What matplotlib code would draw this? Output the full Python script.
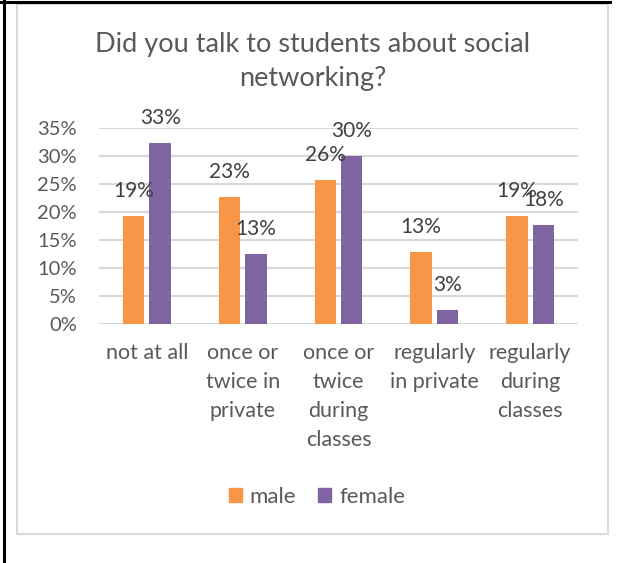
import matplotlib.pyplot as plt
from matplotlib.patches import Rectangle
from matplotlib.lines import Line2D

# Categories and values (%)
categories = ['not at all', 'once or\ntwice in\nprivate', 'once or\ntwice\nduring\nclasses',
              'regularly\nin private', 'regularly\nduring\nclasses']
male = [19.3, 22.6, 25.8, 12.9, 19.3]
female = [32.4, 12.5, 30.0, 2.5, 17.6]
male_labels = ['19%', '23%', '26%', '13%', '19%']
female_labels = ['33%', '13%', '30%', '3%', '18%']
yticks = [0, 5, 10, 15, 20, 25, 30, 35]

orange = '#F79646'
purple = '#8064A2'
grey_text = '#595959'
grid_col = '#D9D9D9'

plt.rcParams['font.family'] = ['Lato', 'DejaVu Sans']

fig = plt.figure(figsize=(6.2, 5.63), dpi=100)
ax = fig.add_axes([99 / 620, 1 - 324 / 563, (578 - 99) / 620, (324 - 128) / 563])

x = list(range(len(categories)))
w = 0.225
off = 0.138
b1 = ax.bar([i - off for i in x], male, width=w, color=orange, zorder=3)
b2 = ax.bar([i + off for i in x], female, width=w, color=purple, zorder=3)

# Data labels
for bars, labs in ((b1, male_labels), (b2, female_labels)):
    for bar, lab in zip(bars, labs):
        ax.annotate(lab, (bar.get_x() + bar.get_width() / 2, bar.get_height()),
                    xytext=(0, 18), textcoords='offset points', ha='center', va='center',
                    fontsize=15, color='#404040')

ax.set_xlim(-0.5, 4.5)
ax.set_ylim(0, 35)
ax.set_yticks(yticks)
ax.set_yticklabels([f'{v}%' for v in yticks])
ax.set_xticks(x)
ax.set_xticklabels(categories, linespacing=1.55)
ax.tick_params(axis='y', length=0, pad=16, labelsize=14.5, labelcolor=grey_text)
ax.tick_params(axis='x', length=0, pad=14, labelsize=15.5, labelcolor=grey_text)
for lab in ax.get_xticklabels():
    lab.set_va('top')
ax.grid(axis='y', color=grid_col, lw=1.5, zorder=0)
for s in ax.spines.values():
    s.set_visible(False)

# Title
fig.text(313 / 620, 1 - 61 / 563, 'Did you talk to students about social\nnetworking?',
         ha='center', va='center', fontsize=19.5, color=grey_text, linespacing=1.45)

# Legend
handles = [Rectangle((0, 0), 1, 1, color=orange), Rectangle((0, 0), 1, 1, color=purple)]
fig.legend(handles, ['male', 'female'], loc='center', bbox_to_anchor=(317 / 620, 1 - 497 / 563),
           ncol=2, frameon=False, fontsize=16, handlelength=0.58, handleheight=0.58,
           handletextpad=0.35, columnspacing=1.0, labelcolor=grey_text)

# Chart frame and page border lines
fig.patches.append(Rectangle((17 / 620, 1 - 534 / 563), (608 - 17) / 620, (534 - 4) / 563,
                             transform=fig.transFigure, fill=False, edgecolor=grid_col, lw=1.5))
fig.lines.append(Line2D([4 / 620, 4 / 620], [0, 1], transform=fig.transFigure, color='black', lw=2.2))
fig.lines.append(Line2D([0, 610 / 620], [1 - 2 / 563, 1 - 2 / 563], transform=fig.transFigure,
                        color='black', lw=2.2))

fig.savefig('out.png', dpi=100)
